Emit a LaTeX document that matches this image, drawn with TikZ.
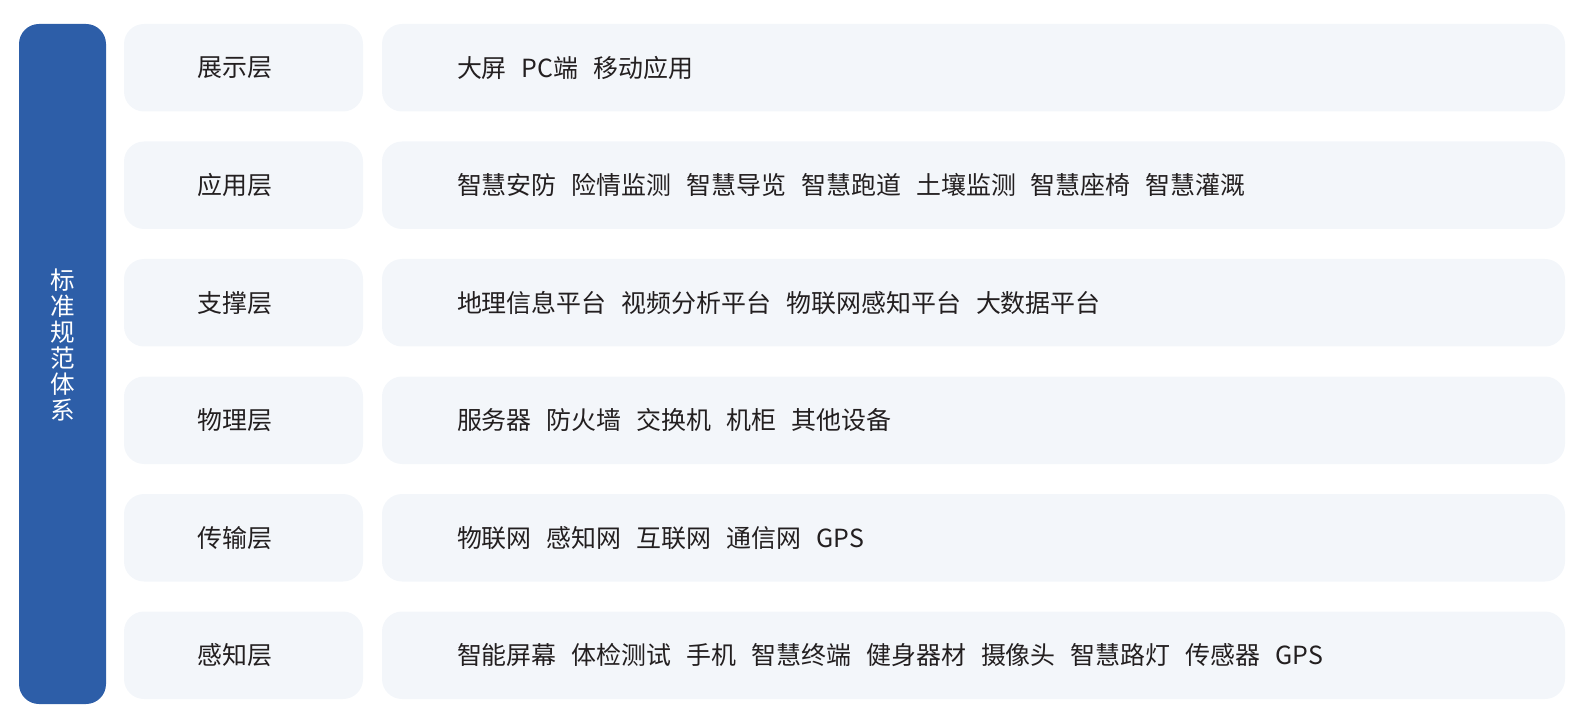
\documentclass[tikz,border=0pt]{standalone}
\usepackage{fontspec}
\newfontfamily\cjk{Noto Sans CJK SC}
\usetikzlibrary{positioning}
\definecolor{barblue}{RGB}{45,94,168}
\definecolor{layerbg}{RGB}{243,246,250}
\definecolor{inktext}{RGB}{35,31,32}
\newcommand{\gap}{\hspace{0.6em}}

\begin{document}
\begin{tikzpicture}[tier/.style={rounded corners=0.4cm, fill=layerbg, minimum height=1.75cm, inner sep=0pt},
                    tiername/.style={tier, minimum width=4.78cm},
                    tierbody/.style={tier, minimum width=23.66cm},
                    txt/.style={font=\cjk\fontsize{14.2}{17}\selectfont, text=inktext, inner sep=0pt},
                    items/.style={txt, anchor=west}]
    \useasboundingbox (0,0) rectangle (31.92,-14.38);

    \node [fill=barblue, rounded corners=0.4cm, minimum width=1.74cm, minimum height=13.6cm] (bar) at (1.25 , -7.28) {};
    \node [txt, text=white, align=center, font=\cjk\fontsize{14}{14.8}\selectfont] (std) at (1.25 , -6.9) {标\\准\\规\\范\\体\\系};

    \node [tiername] (n1) at (4.87 , -1.355) {};
    \node [tiername] (n2) at (4.87 , -3.705) {};
    \node [tiername] (n3) at (4.87 , -6.055) {};
    \node [tiername] (n4) at (4.87 , -8.405) {};
    \node [tiername] (n5) at (4.87 , -10.755) {};
    \node [tiername] (n6) at (4.87 , -13.105) {};

    \node [tierbody] (b1) at (19.47 , -1.355) {};
    \node [tierbody] (b2) at (19.47 , -3.705) {};
    \node [tierbody] (b3) at (19.47 , -6.055) {};
    \node [tierbody] (b4) at (19.47 , -8.405) {};
    \node [tierbody] (b5) at (19.47 , -10.755) {};
    \node [tierbody] (b6) at (19.47 , -13.105) {};

    \node [txt] (t1) at (4.70 , -1.355) {展示层};
    \node [txt] (t2) at (4.70 , -3.705) {应用层};
    \node [txt] (t3) at (4.70 , -6.055) {支撑层};
    \node [txt] (t4) at (4.70 , -8.405) {物理层};
    \node [txt] (t5) at (4.70 , -10.755) {传输层};
    \node [txt] (t6) at (4.70 , -13.105) {感知层};

    \node [items, right=1.5cm of b1.west] (i1) {大屏\gap PC端\gap 移动应用};
    \node [items, right=1.5cm of b2.west] (i2) {智慧安防\gap 险情监测\gap 智慧导览\gap 智慧跑道\gap 土壤监测\gap 智慧座椅\gap 智慧灌溉};
    \node [items, right=1.5cm of b3.west] (i3) {地理信息平台\gap 视频分析平台\gap 物联网感知平台\gap 大数据平台};
    \node [items, right=1.5cm of b4.west] (i4) {服务器\gap 防火墙\gap 交换机\gap 机柜\gap 其他设备};
    \node [items, right=1.5cm of b5.west] (i5) {物联网\gap 感知网\gap 互联网\gap 通信网\gap GPS};
    \node [items, right=1.5cm of b6.west] (i6) {智能屏幕\gap 体检测试\gap 手机\gap 智慧终端\gap 健身器材\gap 摄像头\gap 智慧路灯\gap 传感器\gap GPS};
\end{tikzpicture}
\end{document}
